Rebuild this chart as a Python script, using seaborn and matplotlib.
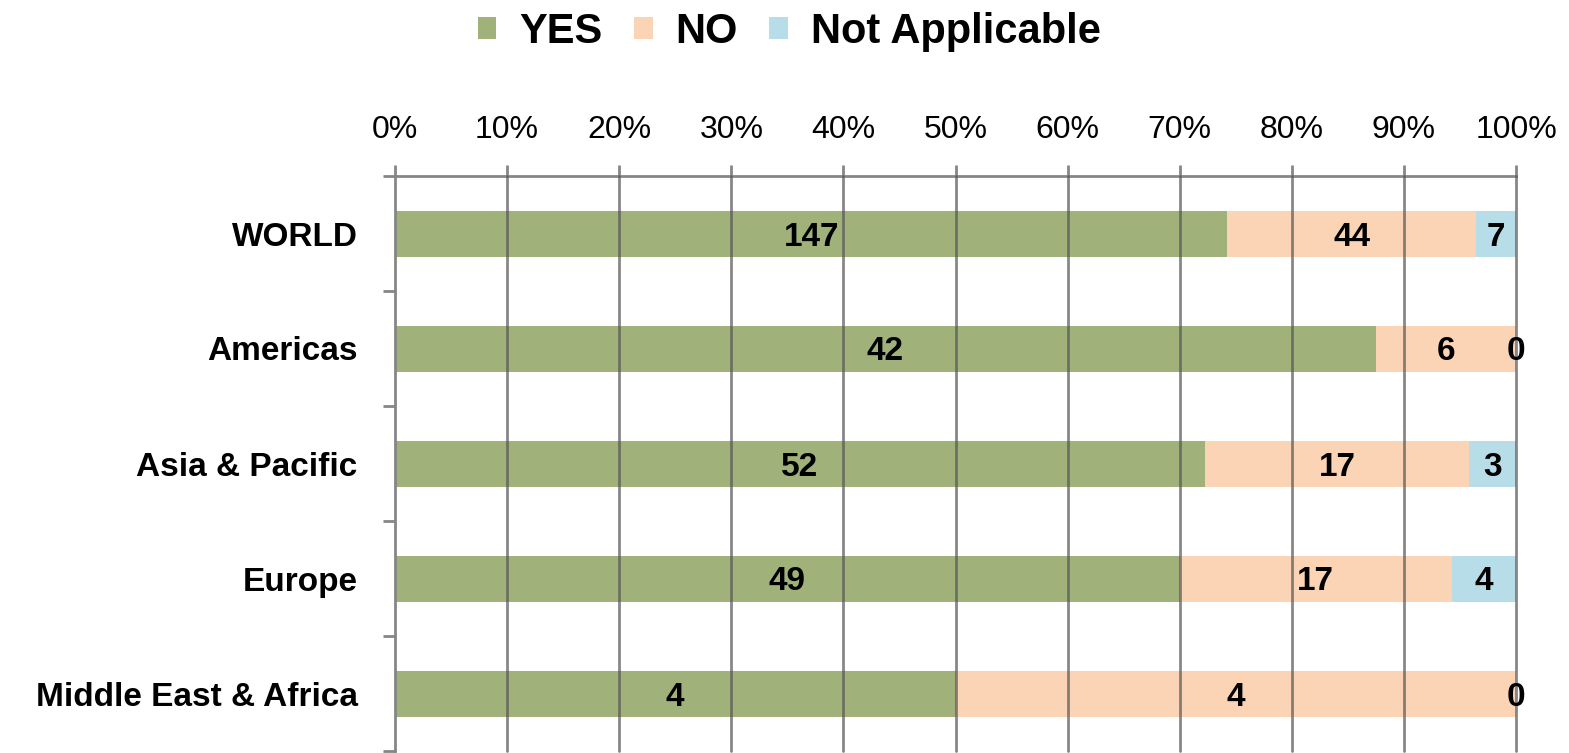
import numpy as np
import matplotlib
matplotlib.use("Agg")
import matplotlib.pyplot as plt
from matplotlib.patches import Patch
from matplotlib.ticker import PercentFormatter, FixedLocator
import seaborn as sns
import pandas as pd

# data
regions = ["WORLD", "Americas", "Asia & Pacific", "Europe", "Middle East & Africa"]
yes = [147, 42, 52, 49, 4]
no = [44, 6, 17, 17, 4]
na = [7, 0, 3, 4, 0]
series = ["YES", "NO", "Not Applicable"]
colors = ["#A0B27A", "#FAD4B4", "#B7DEE8"]
xticks = np.arange(0, 101, 10)

sns.set_style("white")
plt.rcParams["font.family"] = ["Liberation Sans", "DejaVu Sans"]
plt.rcParams["text.color"] = "black"
plt.rcParams["xtick.labelcolor"] = "black"
plt.rcParams["ytick.labelcolor"] = "black"

df = pd.DataFrame({"region": regions, "YES": yes, "NO": no, "Not Applicable": na})
tot = df[series].sum(axis=1)
pct = df[series].div(tot, axis=0) * 100
cum = pct.cumsum(axis=1)

fig = plt.figure(figsize=(15.69, 7.53), dpi=100)
ax = fig.add_axes([395 / 1569, 2 / 753, 1121 / 1569, 575 / 753])

# overlay cumulative bars, widest first
for s, c in reversed(list(zip(series, colors))):
    sns.barplot(x=cum[s], y=df["region"], color=c, width=0.4, orient="h",
                ax=ax, saturation=1, linewidth=0, zorder=2)

# value labels in the middle of each segment
for i in range(len(df)):
    left = 0
    for s in series:
        w = pct.loc[i, s]
        ax.text(left + w / 2, i, str(df.loc[i, s]), ha="center", va="center_baseline",
                fontsize=24, fontweight="bold", color="black", zorder=4)
        left += w

ax.set_xlim(0, 100)
ax.set_ylim(len(regions) - 0.5, -0.5)
ax.xaxis.set_major_locator(FixedLocator(xticks))
ax.xaxis.set_major_formatter(PercentFormatter(decimals=0))
ax.xaxis.tick_top()
# vertical gridlines on top of the bars
for xv in xticks[1:]:
    ax.axvline(xv, color="#555555", alpha=0.7, linewidth=2, zorder=3, clip_on=False)
ax.tick_params(axis="x", top=True, bottom=False, length=8, width=2, color="#868686",
               labelsize=23, pad=14)
ax.tick_params(axis="y", left=False, length=0, pad=27, labelsize=24)
for lab in ax.get_yticklabels():
    lab.set_fontweight("bold")
ax.yaxis.set_minor_locator(FixedLocator(np.arange(-0.5, len(regions), 1)))
ax.tick_params(axis="y", which="minor", left=True, length=9, width=2, color="#868686")
ax.set_xlabel("")
ax.set_ylabel("")
for side in ["right", "bottom"]:
    ax.spines[side].set_visible(False)
for side in ["top", "left"]:
    ax.spines[side].set_color("#868686")
    ax.spines[side].set_linewidth(2)

handles = [Patch(facecolor=c, edgecolor="none") for c in colors]
leg = fig.legend(handles, series, loc="center", bbox_to_anchor=(0.503, 1 - 32 / 753),
                 ncol=3, frameon=False, handlelength=0.45, handleheight=0.45,
                 handletextpad=0.55, columnspacing=0.75,
                 prop={"size": 30, "weight": "bold"})

fig.savefig("out.png", dpi=100)
